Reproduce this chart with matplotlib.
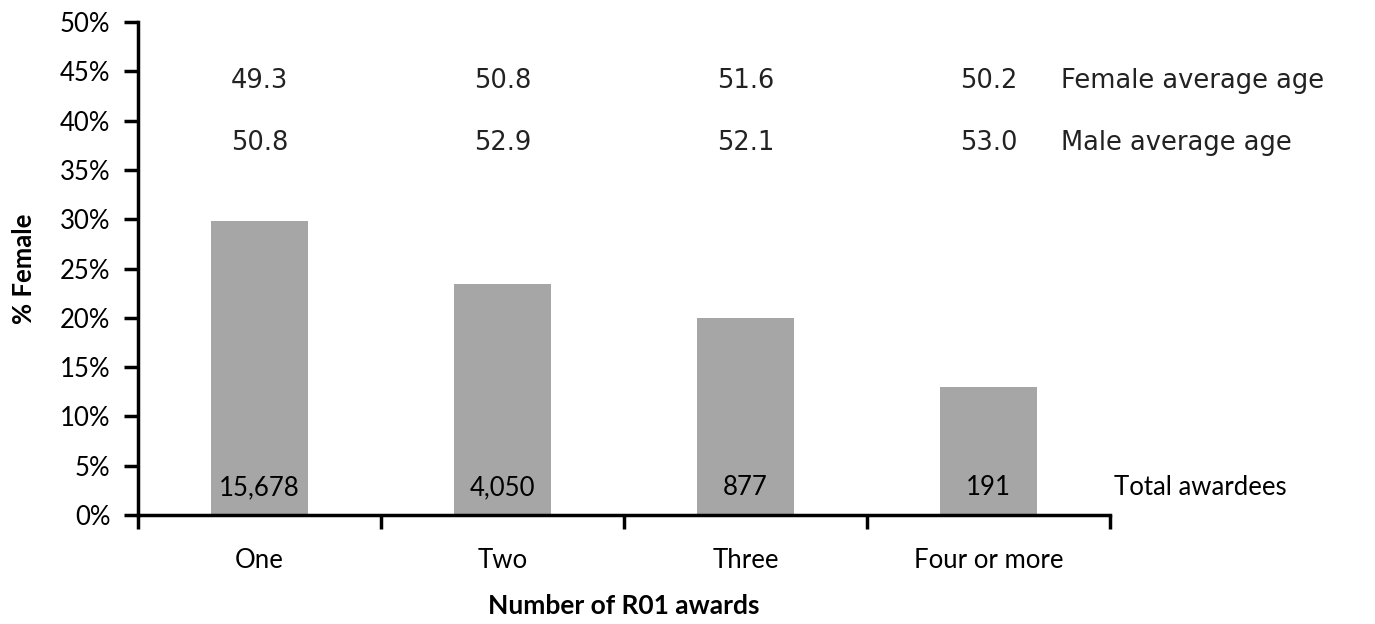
import matplotlib
matplotlib.use("Agg")
import matplotlib.pyplot as plt
import numpy as np

# values
categories = ["One", "Two", "Three", "Four or more"]
pct_female = [29.8, 23.4, 20.0, 13.0]
total_awardees = ["15,678", "4,050", "877", "191"]
female_age = ["49.3", "50.8", "51.6", "50.2"]
male_age = ["50.8", "52.9", "52.1", "53.0"]

plt.rcParams["font.family"] = ["Lato", "DejaVu Sans"]

fig = plt.figure(figsize=(13.75, 6.24), dpi=100)
ax = fig.add_axes([0.1004, 0.1747, 0.7069, 0.7900])

x = np.arange(len(categories))
ax.bar(x, pct_female, width=0.4, color="#a6a6a6")

ax.set_xlim(-0.5, len(categories) - 0.5)
ax.set_ylim(0, 50)
ax.set_yticks(np.arange(0, 51, 5))
ax.set_yticklabels(["%d%%" % v for v in range(0, 51, 5)])

# labels at centres, ticks at category boundaries
ax.set_xticks(x)
ax.set_xticklabels(categories)
ax.set_xticks(np.arange(len(categories) + 1) - 0.5, minor=True)
ax.tick_params(axis="x", which="major", length=0, pad=24, labelsize=18.5)
ax.tick_params(axis="x", which="minor", length=10, width=2.5, direction="out")
ax.tick_params(axis="y", length=10, width=2.5, direction="out", pad=10,
               labelsize=18.5)

for side in ["top", "right"]:
    ax.spines[side].set_visible(False)
for side in ["left", "bottom"]:
    ax.spines[side].set_linewidth(2.5)

ax.set_ylabel("% Female", fontsize=18.5, fontweight="bold", labelpad=17)
ax.set_xlabel("Number of R01 awards", fontsize=19, fontweight="bold",
              labelpad=15)

# annotations inside the chart
age_font = dict(family="DejaVu Sans", fontsize=18.5, va="center",
                color="#222222")
for i in range(len(categories)):
    ax.text(x[i], 2.8, total_awardees[i], fontsize=18.5, ha="center",
            va="center")
    ax.text(x[i], 44.0, female_age[i], ha="center", **age_font)
    ax.text(x[i], 37.7, male_age[i], ha="center", **age_font)

ax.text(3.5 + 0.015, 2.8, "Total awardees", fontsize=18.5, ha="left",
        va="center", clip_on=False)
ax.text(3.3, 44.0, "Female average age", ha="left", clip_on=False, **age_font)
ax.text(3.3, 37.7, "Male average age", ha="left", clip_on=False, **age_font)

fig.savefig("out.png", dpi=100)
